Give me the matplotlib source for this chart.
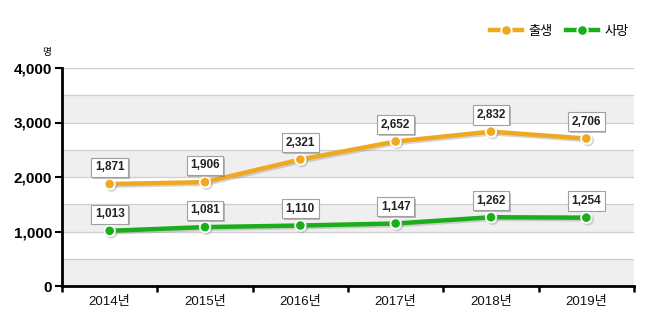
import matplotlib
matplotlib.use("Agg")
import matplotlib.pyplot as plt
import matplotlib.patheffects as pe
from matplotlib.lines import Line2D

plt.rcParams['font.family'] = ['Liberation Sans', 'Noto Sans CJK KR']

years = ['2014년', '2015년', '2016년', '2017년', '2018년', '2019년']
births = [1871, 1906, 2321, 2652, 2832, 2706]
deaths = [1013, 1081, 1110, 1147, 1262, 1254]
series_names = ['출생', '사망']
yticks = [0, 1000, 2000, 3000, 4000]

orange = '#EFA920'
green = '#1BAE1B'

fig = plt.figure(figsize=(6.5, 3.25), dpi=100)
ax = fig.add_axes([62/650, 1-286/325, (634-62)/650, (286-68)/325])

x = list(range(len(years)))
ax.set_xlim(-0.5, len(years) - 0.5)
ax.set_ylim(0, 4000)

# alternating horizontal bands with light grid lines
for lo in range(0, 4000, 1000):
    ax.axhspan(lo, lo + 500, color='#EFEFEF', zorder=0, lw=0)
for g in range(500, 4001, 500):
    ax.axhline(g, color='#CFCFCF', lw=0.9, zorder=1)

shadow = [pe.SimpleLineShadow(offset=(1.2, -1.2), shadow_color='#888888', alpha=0.35), pe.Normal()]
for vals, col in ((births, orange), (deaths, green)):
    ax.plot(x, vals, color=col, lw=3.2, marker='o', ms=7.5, mfc=col, mec='white',
            mew=1.3, zorder=3, path_effects=shadow, solid_capstyle='round')
    for xi, v in zip(x, vals):
        ax.annotate(f'{v:,}', (xi, v), xytext=(0, 12), textcoords='offset points',
                    ha='center', va='center', fontsize=8.5, fontweight='bold', color='#222222',
                    zorder=5,
                    bbox=dict(boxstyle='square,pad=0.3', fc='white', ec='#A0A0A0', lw=0.8,
                              path_effects=[pe.SimplePatchShadow(offset=(1.2, -1.2), alpha=0.35), pe.Normal()]))

ax.set_yticks(yticks)
ax.set_yticklabels([f'{v:,}' for v in yticks], fontsize=11, fontweight='bold')
ax.set_xticks(x)
ax.set_xticklabels(years, fontsize=9.5, color='#111111')
ax.tick_params(axis='x', length=0, pad=7)
ax.tick_params(axis='y', length=5, width=1.5, pad=2)
# category boundary ticks along the x axis
ax.set_xticks([i - 0.5 for i in range(len(years) + 1)], minor=True)
ax.tick_params(axis='x', which='minor', length=4, width=1.8, direction='out')

for s in ('top', 'right'):
    ax.spines[s].set_visible(False)
ax.spines['left'].set_linewidth(2)
ax.spines['bottom'].set_linewidth(2)

fig.text(47/650, 1-52/325, '명', fontsize=7, ha='center', va='center')

handles = [Line2D([0], [0], color=c, lw=3.2, marker='o', ms=7.5, mfc=c, mec='white', mew=1.3)
           for c in (orange, green)]
fig.legend(handles, series_names, loc='center right', bbox_to_anchor=(0.985, 1-32/325),
           ncol=2, frameon=False, fontsize=9.5, handlelength=2.4, columnspacing=1.0,
           handletextpad=0.5)

fig.savefig('out.png', dpi=100)
